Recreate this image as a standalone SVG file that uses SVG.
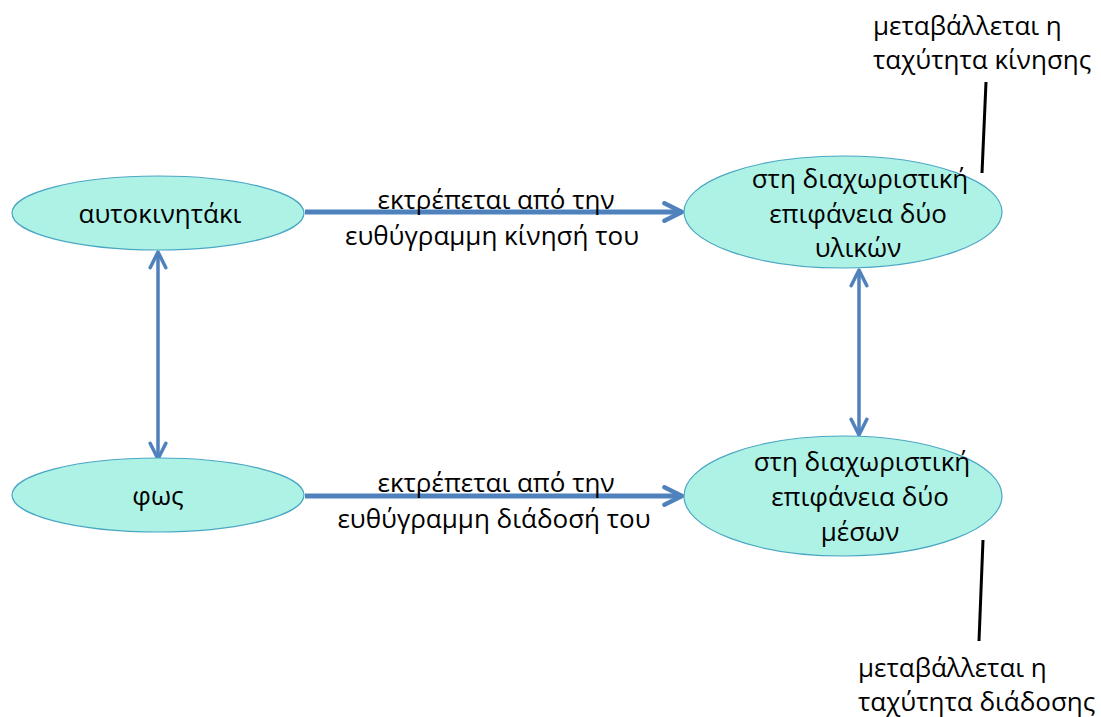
<svg xmlns="http://www.w3.org/2000/svg" width="1101" height="717" viewBox="0 0 1101 717">
  <style>
    text { font-family: "Open Sans", "Noto Sans", "DejaVu Sans", sans-serif; font-size: 26px; fill: #000; }
    .mid { text-anchor: middle; }
    .node { fill: #aef1e5; stroke: #4aa7c4; stroke-width: 1.2; }
    .flow { stroke: #4f81bd; stroke-width: 5; fill: none; }
    .link { stroke: #4f81bd; stroke-width: 3.5; fill: none; }
    .note { stroke: #000; stroke-width: 3; }
  </style>
  <defs>
    <marker id="chev" viewBox="0 0 10 10" refX="9" refY="5" markerWidth="4.4" markerHeight="4.4" markerUnits="strokeWidth" orient="auto-start-reverse">
      <path d="M1,1 L9,5 L1,9" fill="none" stroke="#4f81bd" stroke-width="2" stroke-linecap="round" stroke-linejoin="round"/>
    </marker>
    <marker id="chevs" viewBox="0 0 10 10" refX="9" refY="5" markerWidth="5.6" markerHeight="5.6" markerUnits="strokeWidth" orient="auto-start-reverse">
      <path d="M1,1 L9,5 L1,9" fill="none" stroke="#4f81bd" stroke-width="1.8" stroke-linecap="round" stroke-linejoin="round"/>
    </marker>
  </defs>

  <!-- connectors -->
  <g id="connectors">
    <line class="flow" x1="305" y1="212" x2="682" y2="212" marker-end="url(#chev)"/>
    <line class="flow" x1="305" y1="496" x2="682" y2="496" marker-end="url(#chev)"/>
    <line class="link" x1="158" y1="252" x2="158" y2="459" marker-start="url(#chevs)" marker-end="url(#chevs)"/>
    <line class="link" x1="859" y1="270" x2="859" y2="435" marker-start="url(#chevs)" marker-end="url(#chevs)"/>
    <line class="note" x1="986" y1="82" x2="982" y2="173"/>
    <line class="note" x1="983" y1="540" x2="979" y2="641"/>
  </g>

  <!-- edge labels -->
  <g id="edge-labels">
    <text class="mid" x="496" y="209">εκτρέπεται από την</text>
    <text class="mid" x="492" y="245">ευθύγραμμη κίνησή του</text>
    <text class="mid" x="496" y="492">εκτρέπεται από την</text>
    <text class="mid" x="494" y="528">ευθύγραμμη διάδοσή του</text>
  </g>

  <g id="node-car">
    <ellipse class="node" cx="158" cy="213" rx="146" ry="37"/>
    <text class="mid" x="160" y="223">αυτοκινητάκι</text>
  </g>

  <g id="node-light">
    <ellipse class="node" cx="158" cy="495" rx="146" ry="37"/>
    <text class="mid" x="158" y="505">φως</text>
  </g>

  <g id="node-materials">
    <ellipse class="node" cx="843" cy="212" rx="159" ry="56"/>
    <text class="mid" x="860" y="188">στη διαχωριστική</text>
    <text class="mid" x="858" y="223">επιφάνεια δύο</text>
    <text class="mid" x="858" y="257">υλικών</text>
  </g>

  <g id="node-media">
    <ellipse class="node" cx="843" cy="496" rx="159" ry="60"/>
    <text class="mid" x="862" y="471">στη διαχωριστική</text>
    <text class="mid" x="860" y="506">επιφάνεια δύο</text>
    <text class="mid" x="860" y="541">μέσων</text>
  </g>

  <g id="note-top">
    <text x="873" y="35">μεταβάλλεται η</text>
    <text x="873" y="69">ταχύτητα κίνησης</text>
  </g>

  <g id="note-bottom">
    <text x="858" y="677">μεταβάλλεται η</text>
    <text x="858" y="711">ταχύτητα διάδοσης</text>
  </g>
</svg>
